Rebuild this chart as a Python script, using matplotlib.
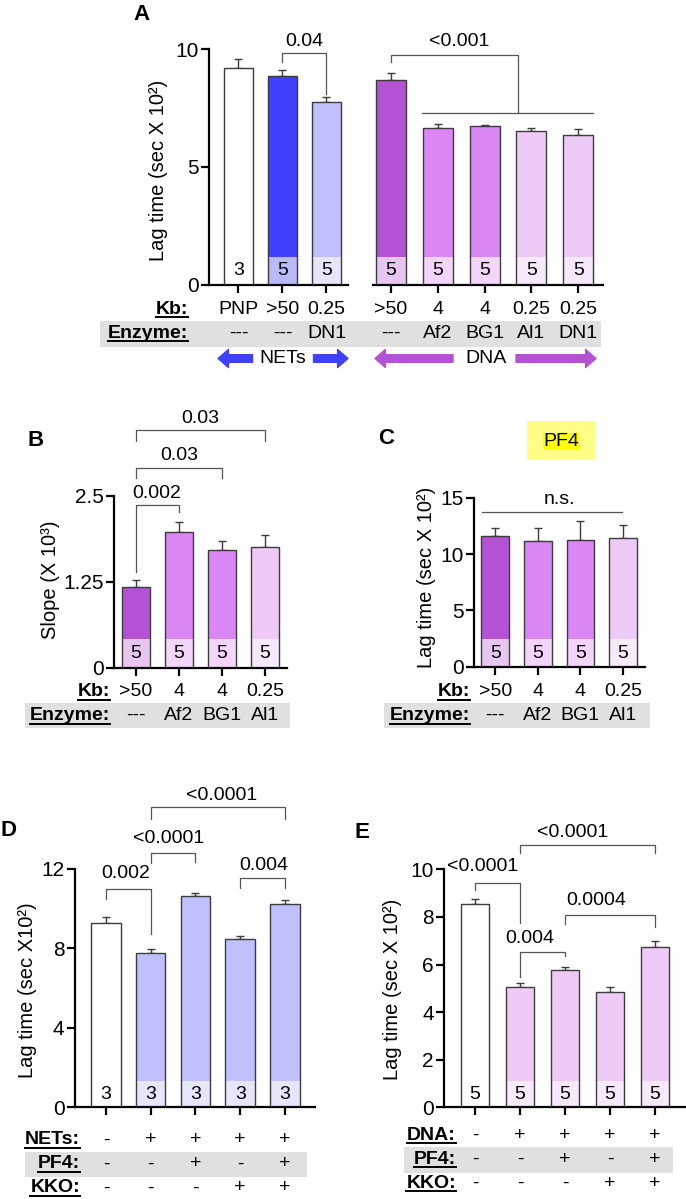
import matplotlib
matplotlib.use("Agg")
import matplotlib.pyplot as plt
from matplotlib.transforms import blended_transform_factory
from matplotlib.patches import Rectangle, FancyArrowPatch
from matplotlib.lines import Line2D

plt.rcParams["font.family"] = ["Liberation Sans", "DejaVu Sans"]

# ---- data ----
a_kb = ["PNP", ">50", "0.25", ">50", "4", "4", "0.25", "0.25"]
a_enzyme = ["---", "---", "DN1", "---", "Af2", "BG1", "Al1", "DN1"]
a_lag = [9.2, 8.84, 7.75, 8.67, 6.64, 6.74, 6.54, 6.37]
a_err = [0.36, 0.26, 0.2, 0.33, 0.18, 0.05, 0.11, 0.24]
a_n = [3, 5, 5, 5, 5, 5, 5, 5]

bc_kb = [">50", "4", "4", "0.25"]
bc_enzyme = ["---", "Af2", "BG1", "Al1"]
b_slope = [1.18, 1.97, 1.72, 1.75]
b_err = [0.09, 0.15, 0.13, 0.18]
c_lag = [11.56, 11.18, 11.24, 11.39]
c_err = [0.72, 1.1, 1.69, 1.15]
bc_n = [5, 5, 5, 5]

de_first = ["-", "+", "+", "+", "+"]
de_pf4 = ["-", "-", "+", "-", "+"]
de_kko = ["-", "-", "-", "+", "+"]
d_lag = [9.26, 7.78, 10.64, 8.47, 10.25]
d_err = [0.34, 0.21, 0.13, 0.17, 0.2]
d_n = [3, 3, 3, 3, 3]
e_lag = [8.53, 5.07, 5.77, 4.86, 6.72]
e_err = [0.22, 0.17, 0.14, 0.18, 0.25]
e_n = [5, 5, 5, 5, 5]

# ---- colours ----
WHITE = ("#ffffff", "#ffffff")
BLUE = ("#4040ff", "#b9b9f7")
LBLUE = ("#c0c0ff", "#e6e6fb")
PURP = ("#b452d4", "#e6c6ef")
MPURP = ("#db86f5", "#f3d5fa")
LPURP = ("#eecbf6", "#f8e8fb")
EDGE = "#3c3c3c"

FS = 14
W, H = 686, 1199
fig = plt.figure(figsize=(6.86, 11.99), dpi=100)


def box(x0, y0, x1, y1):
    return [x0 / W, 1 - y1 / H, (x1 - x0) / W, (y1 - y0) / H]


def style(ax, ylim, yticks, ylabels=None, left=True):
    ax.set_ylim(*ylim)
    ax.set_yticks(yticks)
    if ylabels:
        ax.set_yticklabels(ylabels)
    ax.patch.set_alpha(0)
    for s in ["top", "right"]:
        ax.spines[s].set_visible(False)
    ax.spines["left"].set_linewidth(1.6)
    ax.spines["bottom"].set_linewidth(1.6)
    ax.tick_params(axis="both", direction="out", length=6, width=1.6,
                   labelsize=15, pad=1.5)
    ax.tick_params(axis="x", labelbottom=False)
    if not left:
        ax.spines["left"].set_visible(False)
        ax.tick_params(axis="y", left=False, labelleft=False)


def bars(ax, vals, errs, ns, colors, nh, width):
    x = list(range(len(vals)))
    ax.bar(x, [nh] * len(vals), width, color=[c[1] for c in colors],
           edgecolor="none", zorder=2)
    ax.bar(x, [v - nh for v in vals], width, bottom=nh,
           color=[c[0] for c in colors], edgecolor="none", zorder=2)
    ax.bar(x, vals, width, fill=False, edgecolor=EDGE, linewidth=1.0, zorder=3)
    ax.errorbar(x, vals, yerr=[[0] * len(vals), errs], fmt="none",
                ecolor=EDGE, elinewidth=1.0, capsize=3, capthick=1.0, zorder=1)
    for xi, n in zip(x, ns):
        ax.text(xi, nh / 2, str(n), ha="center", va="center", fontsize=FS,
                zorder=4)
    ax.set_xticks(x)


def bracket(ax, x1, x2, y, y1, y2, text, tx, ty):
    ax.plot([x1, x1, x2, x2], [y1, y, y, y2], color="#555555", lw=0.9,
            clip_on=False, zorder=5)
    ax.text(tx, ty, text, ha="center", va="center", fontsize=FS,
            clip_on=False)


heads = []


def rows(ax, names, ypix, labels_x, values):
    tr = blended_transform_factory(ax.transData, fig.transFigure)
    for vals, yp in zip(values, ypix):
        for i, s in enumerate(vals):
            ax.text(i, 1 - yp / H, s, transform=tr, ha="center", va="center",
                    fontsize=FS)
    if names:
        for nm, yp in zip(names, ypix):
            heads.append(fig.text(labels_x / W, 1 - yp / H, nm, ha="right",
                                  va="center", fontsize=FS, fontweight="bold"))


def band(x0, y0, x1, y1):
    fig.add_artist(Rectangle((x0 / W, 1 - y1 / H), (x1 - x0) / W,
                             (y1 - y0) / H, transform=fig.transFigure,
                             facecolor="#e0e0e0", edgecolor="none", zorder=0))


def ylab(x, y, s):
    fig.text(x / W, 1 - y / H, s, rotation=90, ha="center", va="center",
             fontsize=14.5)


def letter(x, y, s):
    fig.text(x / W, 1 - y / H, s, ha="center", va="center", fontsize=16,
             fontweight="bold")


def arrow(x0, x1, y, color):
    fig.add_artist(FancyArrowPatch(
        (x0 / W, 1 - y / H), (x1 / W, 1 - y / H), transform=fig.transFigure,
        arrowstyle="simple,head_length=0.75,head_width=1.3,tail_width=0.55",
        mutation_scale=10, color=color, shrinkA=0, shrinkB=0))


# ---- panel A ----
a1 = fig.add_axes(box(209, 49, 348, 285))
a2 = fig.add_axes(box(373, 49, 603, 285))
bars(a1, a_lag[:3], a_err[:3], a_n[:3], [WHITE, BLUE, LBLUE], 1.2, 0.66)
bars(a2, a_lag[3:], a_err[3:], a_n[3:], [PURP, MPURP, MPURP, LPURP, LPURP],
     1.2, 0.64)
a1.set_xlim(-0.67, 2.49)
a2.set_xlim(-0.385, 4.53)
style(a1, (0, 10), [0, 5, 10])
style(a2, (0, 10), [0, 5, 10], left=False)
bracket(a1, 1, 2, 9.83, 9.45, 8.1, "0.04", 1.5, 10.3)
a2.plot([0, 0, 2.72, 2.72], [9.45, 9.75, 9.75, 7.29], color="#555555",
        lw=0.9, clip_on=False)
a2.plot([0.66, 4.32], [7.29, 7.29], color="#555555", lw=0.9, clip_on=False)
a2.text(1.45, 10.3, "<0.001", ha="center", va="center", fontsize=FS)
band(100, 321, 601, 347)
rows(a1, ["Kb:", "Enzyme:"], [309, 333.5], 188,
     [a_kb[:3], a_enzyme[:3]])
rows(a2, None, [309, 333.5], 188, [a_kb[3:], a_enzyme[3:]])
arrow(252.5, 218, 358.5, BLUE[0])
arrow(313.5, 348, 358.5, BLUE[0])
arrow(453, 375, 358.5, PURP[0])
arrow(516, 596, 358.5, PURP[0])
fig.text(283 / W, 1 - 358.5 / H, "NETs", ha="center", va="center",
         fontsize=FS)
fig.text(486 / W, 1 - 358.5 / H, "DNA", ha="center", va="center", fontsize=FS)
ylab(158, 170, "Lag time (sec X 10²)")
letter(142, 14, "A")

# ---- panel B ----
bx = fig.add_axes(box(114, 496, 287, 667.5))
bars(bx, b_slope, b_err, bc_n, [PURP, MPURP, MPURP, LPURP], 0.41, 0.65)
bx.set_xlim(-0.51, 3.51)
style(bx, (0, 2.5), [0, 1.25, 2.5], ["0", "1.25", "2.5"])
bracket(bx, 0, 1, 2.37, 1.39, 2.27, "0.002", 0.48, 2.53)
bracket(bx, 0, 2, 2.91, 2.76, 2.76, "0.03", 1.0, 3.09)
bracket(bx, 0, 3, 3.46, 3.30, 3.30, "0.03", 1.5, 3.63)
band(25, 703, 290, 728)
rows(bx, ["Kb:", "Enzyme:"], [692, 715.5], 110, [bc_kb, bc_enzyme])
ylab(50, 580, "Slope (X 10³)")
letter(36, 440, "B")

# ---- panel C ----
cx = fig.add_axes(box(474, 497.7, 645, 666.7))
bars(cx, c_lag, c_err, bc_n, [PURP, MPURP, MPURP, LPURP], 2.43, 0.65)
cx.set_xlim(-0.5, 3.52)
style(cx, (0, 15), [0, 5, 10, 15])
cx.plot([-0.31, 2.98], [13.77, 13.77], color="#555555", lw=0.9,
        clip_on=False)
cx.text(1.51, 14.8, "n.s.", ha="center", va="center", fontsize=FS)
band(384, 703, 650, 728)
rows(cx, ["Kb:", "Enzyme:"], [692, 715.5], 470, [bc_kb, bc_enzyme])
ylab(427, 577, "Lag time (sec X 10²)")
letter(386, 438, "C")
fig.add_artist(Rectangle((527 / W, 1 - 460 / H), 68 / W, 39 / H,
                         transform=fig.transFigure, facecolor="#ffff88",
                         edgecolor="none", zorder=0))
fig.add_artist(Rectangle((543 / W, 1 - 450 / H), 36 / W, 17.5 / H,
                         transform=fig.transFigure, facecolor="#ffff00",
                         edgecolor="none", zorder=0))
fig.text(561 / W, 1 - 441.5 / H, "PF4", ha="center", va="center", fontsize=FS)

# ---- panel D ----
dx = fig.add_axes(box(75, 869, 315, 1107.3))
bars(dx, d_lag, d_err, d_n, [WHITE, LBLUE, LBLUE, LBLUE, LBLUE], 1.32, 0.66)
dx.set_xlim(-0.69, 4.67)
style(dx, (0, 12), [0, 4, 8, 12])
bracket(dx, 0, 1, 10.97, 10.49, 8.72, "0.002", 0.45, 11.75)
bracket(dx, 1, 2, 12.83, 12.3, 12.35, "<0.0001", 1.4, 13.56)
bracket(dx, 3, 4, 11.53, 11.06, 11.06, "0.004", 3.52, 12.2)
bracket(dx, 1, 4, 15.1, 14.5, 14.5, "<0.0001", 2.59, 15.69)
band(25, 1152, 307, 1177)
rows(dx, ["NETs:", "PF4:", "KKO:"], [1140, 1164, 1188], 80,
     [de_first, de_pf4, de_kko])
ylab(28, 990, "Lag time (sec X10²)")
letter(9, 830, "D")

# ---- panel E ----
ex = fig.add_axes(box(444.3, 869.3, 686, 1107.3))
bars(ex, e_lag, e_err, e_n, [WHITE, LPURP, LPURP, LPURP, LPURP], 1.1, 0.64)
ex.set_xlim(-0.68, 4.69)
style(ex, (0, 10), [0, 2, 4, 6, 8, 10])
bracket(ex, 0, 1, 9.41, 9.13, 7.73, "<0.0001", 0.18, 10.11)
bracket(ex, 1, 2, 6.51, 5.49, 6.36, "0.004", 1.22, 7.1)
bracket(ex, 2, 4, 8.07, 7.69, 7.58, "0.0004", 2.69, 8.68)
bracket(ex, 1, 4, 11.02, 10.7, 10.7, "<0.0001", 2.16, 11.55)
band(404, 1147, 673, 1173)
rows(ex, ["DNA:", "PF4:", "KKO:"], [1135, 1159.3, 1183.3], 456,
     [de_first, de_pf4, de_kko])
ylab(393, 989, "Lag time (sec X 10²)")
letter(362, 833, "E")

# underline the row headers
fig.canvas.draw()
r = fig.canvas.get_renderer()
for t in heads:
    bb = t.get_window_extent(r)
    fig.add_artist(Line2D([bb.x0 / W, bb.x1 / W], [(bb.y0 + 0.5) / H] * 2,
                          transform=fig.transFigure, color="black", lw=1.4))

fig.savefig("out.png", dpi=100)
